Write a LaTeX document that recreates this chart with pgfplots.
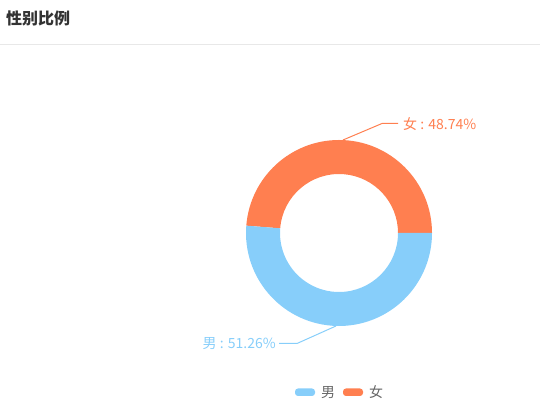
\documentclass[border=0pt]{standalone}
\usepackage{pgfplots}
\usepackage{pgfplotstable}
\pgfplotsset{compat=1.18}
\usepackage{fontspec}
\setmainfont{Noto Sans CJK SC}
\definecolor{male}{HTML}{87CEFA}
\definecolor{female}{HTML}{FF7F50}
\definecolor{titlec}{HTML}{333333}
\definecolor{legc}{HTML}{666666}
\definecolor{sepc}{HTML}{E8E8E8}
\pgfplotstableread{
idx value
0 51.26
1 48.74
}\gendertable
\begin{document}
\begin{tikzpicture}
\pgfplotstablegetelem{0}{value}\of\gendertable \let\maleval\pgfplotsretval
\pgfplotstablegetelem{1}{value}\of\gendertable \let\femaleval\pgfplotsretval
\pgfmathsetmacro{\fa}{\femaleval*3.6}
\begin{axis}[width=540pt,height=411pt,scale only axis,anchor=south west,at={(0,0)},
  xmin=0,xmax=540,ymin=0,ymax=411,hide axis,clip=false]
% donut
\fill[female] (axis cs:339,178) ++(0:93pt) arc[start angle=0,end angle=\fa,radius=93pt]
   -- ++(\fa:-34pt) arc[start angle=\fa,end angle=0,radius=59pt] -- cycle;
\fill[male] (axis cs:339,178) ++(\fa:93pt) arc[start angle=\fa,end angle=360,radius=93pt]
   -- ++(0:-34pt) arc[start angle=360,end angle=\fa,radius=59pt] -- cycle;
% leader lines
\draw[female,line width=1pt] (axis cs:343,271) -- (axis cs:382,287.5) -- (axis cs:398,287.5);
\node[female,anchor=west,inner sep=0pt,font=\fontsize{14pt}{16pt}\selectfont] at (axis cs:403,287) {女 : 48.74\%};
\draw[male,line width=1pt] (axis cs:336,85) -- (axis cs:297,67.5) -- (axis cs:279,67.5);
\node[male,anchor=east,inner sep=0pt,font=\fontsize{14pt}{16pt}\selectfont] at (axis cs:276,67.5) {男 : 51.26\%};
% title and separator
\node[titlec,anchor=west,inner sep=0pt,font=\fontsize{16pt}{18pt}\selectfont\bfseries] at (axis cs:6,392.5) {性别比例};
\draw[sepc,line width=1pt] (axis cs:0,366.5) -- (axis cs:540,366.5);
% legend
\fill[male,rounded corners=3pt] (axis cs:295,15) rectangle (axis cs:315,22.5);
\node[legc,anchor=west,inner sep=0pt,font=\fontsize{14pt}{16pt}\selectfont] at (axis cs:321,18.5) {男};
\fill[female,rounded corners=3pt] (axis cs:343,15) rectangle (axis cs:363,22.5);
\node[legc,anchor=west,inner sep=0pt,font=\fontsize{14pt}{16pt}\selectfont] at (axis cs:369,18.5) {女};
\end{axis}
\pgfresetboundingbox
\useasboundingbox (0,0) rectangle (540pt,411pt);
\end{tikzpicture}
\end{document}
